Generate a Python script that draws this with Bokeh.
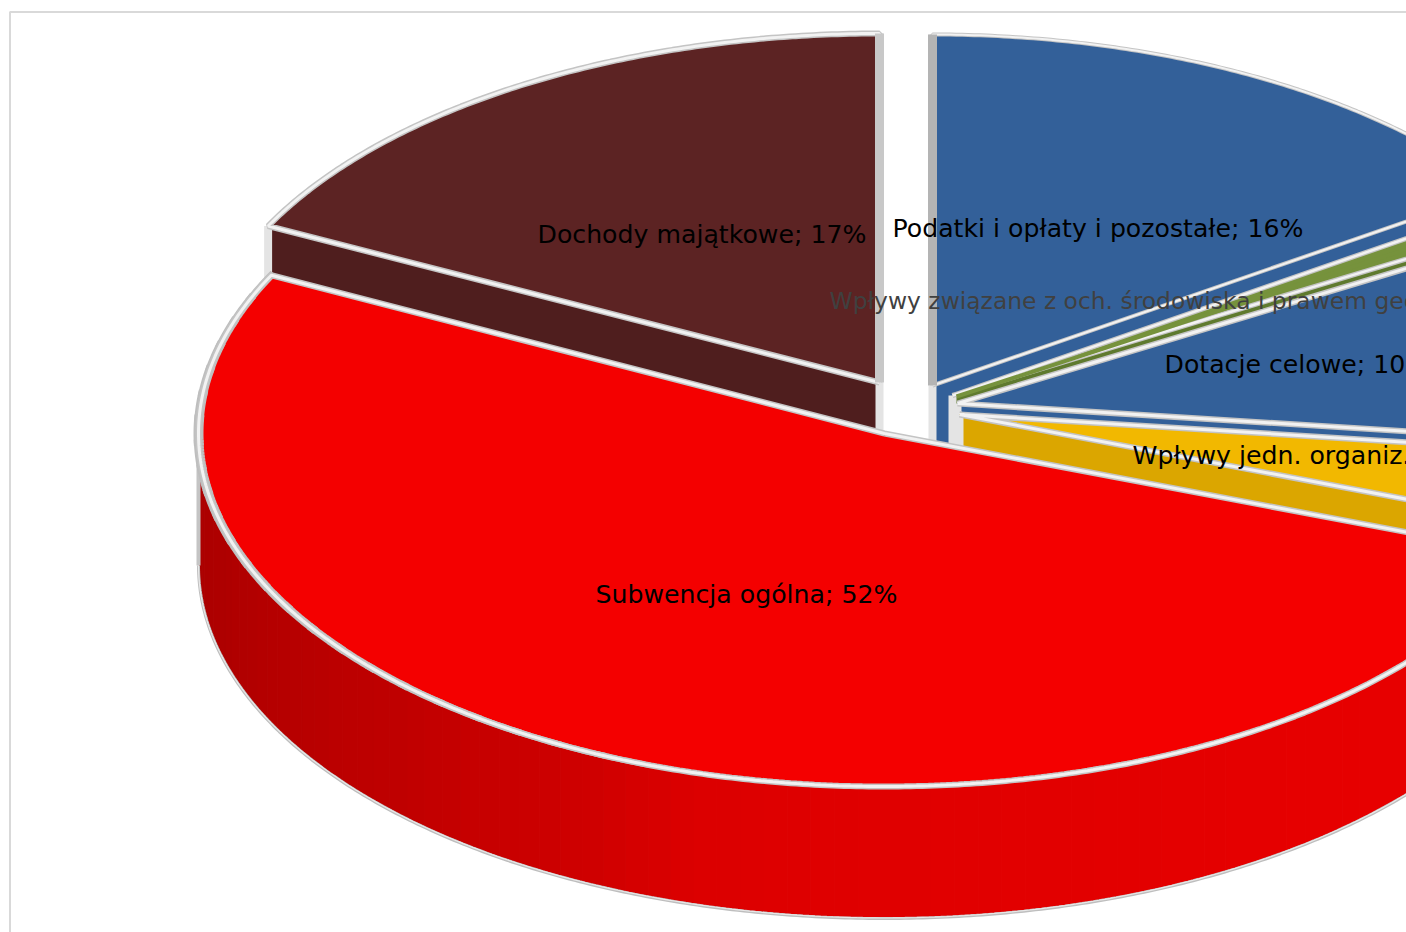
import numpy as np
from bokeh.plotting import figure
from bokeh.models import Range1d
from bokeh.core.properties import value
from bokeh.embed import file_html
from bokeh.resources import INLINE

# ---- data ----
categories = ["Podatki i opłaty i pozostałe", "Wpływy związane z och. środowiska i prawem geologicznym",
              "Dotacje celowe", "Wpływy jedn. organiz.", "Subwencja ogólna", "Dochody majątkowe"]
values = [15.6, 1.0, 10.3, 3.7, 51.8, 17.6]
shown_percent = [16, 1, 10, 4, 52, 17]

# ---- style and layout ----
top_colors = ["#336099", "#76923C", "#336099", "#F2B800", "#F40000", "#5C2323"]
side_colors = ["#336099", "#5F7A2E", "#336099", "#DBA600", "#E00000", "#4F1E1E"]
apex_x = [932, 952, 957, 959, 884, 879]
apex_y = [385, 395, 403, 414, 433, 382]
radius_x = [680, 680, 680, 680, 686, 684]
radius_y = [351, 351, 351, 351, 353, 349]
stroke_outer = [4, 5, 6, 6, 6, 6]
stroke_inner = [2, 2.5, 3, 3, 3, 3]
label_x = [892, 829, 1164, 1132, 595, 537]
label_y = [228, 300, 364, 455, 594, 234]
label_colors = ["#000000", "#404040", "#000000", "#000000", "#000000", "#000000"]
label_sizes = ["25.2px", "23.4px", "25.2px", "25.2px", "25.2px", "25.2px"]
draw_order = [5, 0, 1, 2, 3, 4]
DEPTH = 132
rim_stops_deg = [130, 183, 196, 205, 225, 252, 270]
rim_stops_red = [232, 224, 220, 208, 192, 176, 170]

p = figure(width=1406, height=932, output_backend="svg", toolbar_location=None,
           x_range=Range1d(0, 1406), y_range=Range1d(932, 0),
           x_axis_type=None, y_axis_type=None, min_border=0)
p.grid.visible = False
p.outline_line_color = None
p.background_fill_color = "#FFFFFF"

p.line([9.5, 9.5, 1406], [932, 11.5, 11.5], line_color="#D9D9D9", line_width=2)

edges = np.concatenate([[0], np.cumsum(values)]) / sum(values) * 360.0


def pt(i, deg):
    t = np.radians(deg)
    return apex_x[i] + radius_x[i] * np.sin(t), apex_y[i] - radius_y[i] * np.cos(t)


def arc(i, a, b):
    d = np.linspace(a, b, max(2, int(abs(b - a) * 2) + 1))
    return pt(i, d)


for i in draw_order:
    a, b = edges[i], edges[i + 1]
    ax, ay = apex_x[i], apex_y[i]
    # cut faces
    for deg in (a, b):
        x, y = pt(i, deg)
        p.patch([ax, x, x, ax], [ay, y, y + DEPTH, ay + DEPTH],
                fill_color=side_colors[i], line_color=side_colors[i])
    # rim, only the part that faces the viewer
    lo, hi = max(a, 90), min(b, 270)
    if hi > lo:
        steps = np.arange(lo, hi + 2, 2.0)
        steps[-1] = hi
        steps = steps[steps <= hi]
        for s0, s1 in zip(steps[:-1], steps[1:]):
            x, y = arc(i, s0, s1)
            if i == 4:
                r = int(np.interp((s0 + s1) / 2, rim_stops_deg, rim_stops_red))
                col = "#%02X0000" % r
            else:
                col = side_colors[i]
            p.patch(np.r_[x, x[::-1]], np.r_[y, y[::-1] + DEPTH],
                    fill_color=col, line_color=col)
        x, y = arc(i, lo, hi)
        p.line(x, y + DEPTH, line_color="#BEBEBE", line_width=3)
        p.line(x, y + DEPTH - 0.5, line_color="#E8E8E8", line_width=1.2)
        if lo <= 270 <= hi:
            xe, ye = pt(i, 270)
            p.line([xe, xe], [ye, ye + DEPTH], line_color="#C4C4C4", line_width=4)
    # light vertical edges
    for deg in (a, b):
        x, y = pt(i, deg)
        p.line([x, x], [y, y + DEPTH], line_color="#E4E4E4", line_width=8)
    p.line([ax, ax], [ay, ay + DEPTH], line_color="#E4E4E4", line_width=8)
    # top face
    x, y = arc(i, a, b)
    xs = np.r_[ax, x, ax]
    ys = np.r_[ay, y, ay]
    p.patch(xs, ys, fill_color=top_colors[i], line_color=None)
    if i == 4:  # outline grows heavier toward the far left of the large slice
        marks = np.arange(200.0, b, 4.0)
        for s0, s1 in zip(marks[:-1], marks[1:]):
            xl, yl = arc(i, s0, s1 + 1)
            w = float(np.interp((s0 + s1) / 2, [200, 270, 297], [5.5, 10, 7]))
            p.line(xl, yl, line_color="#BEBEBE", line_width=w)
    p.line(xs, ys, line_color="#C4C4C4", line_width=stroke_outer[i])
    p.line(xs, ys, line_color="#F2F2F2", line_width=stroke_inner[i])
    if i == 1:  # the narrow slice stays visible between its outlines
        xm, ym = pt(i, (a + b) / 2)
        p.line([ax + 4, xm], [ay + 1, ym], line_color=top_colors[i], line_width=4)

# upright cut edge of the two pulled-out slices, seen from the side
for i, deg, col in ((5, edges[6], "#C8C8C8"), (0, edges[0], "#B4B4B4")):
    x, y = pt(i, deg)
    p.line([x, x], [y, apex_y[i]], line_color=col, line_width=9)

labels = ["%s; %d%%" % (c, v) for c, v in zip(categories, shown_percent)]
p.text(label_x, label_y, text=labels, text_font=value("DejaVu Sans"), text_font_size=label_sizes,
       text_baseline="middle", text_align="left", text_color=label_colors)

open("out.html", "w").write(file_html(p, INLINE))
